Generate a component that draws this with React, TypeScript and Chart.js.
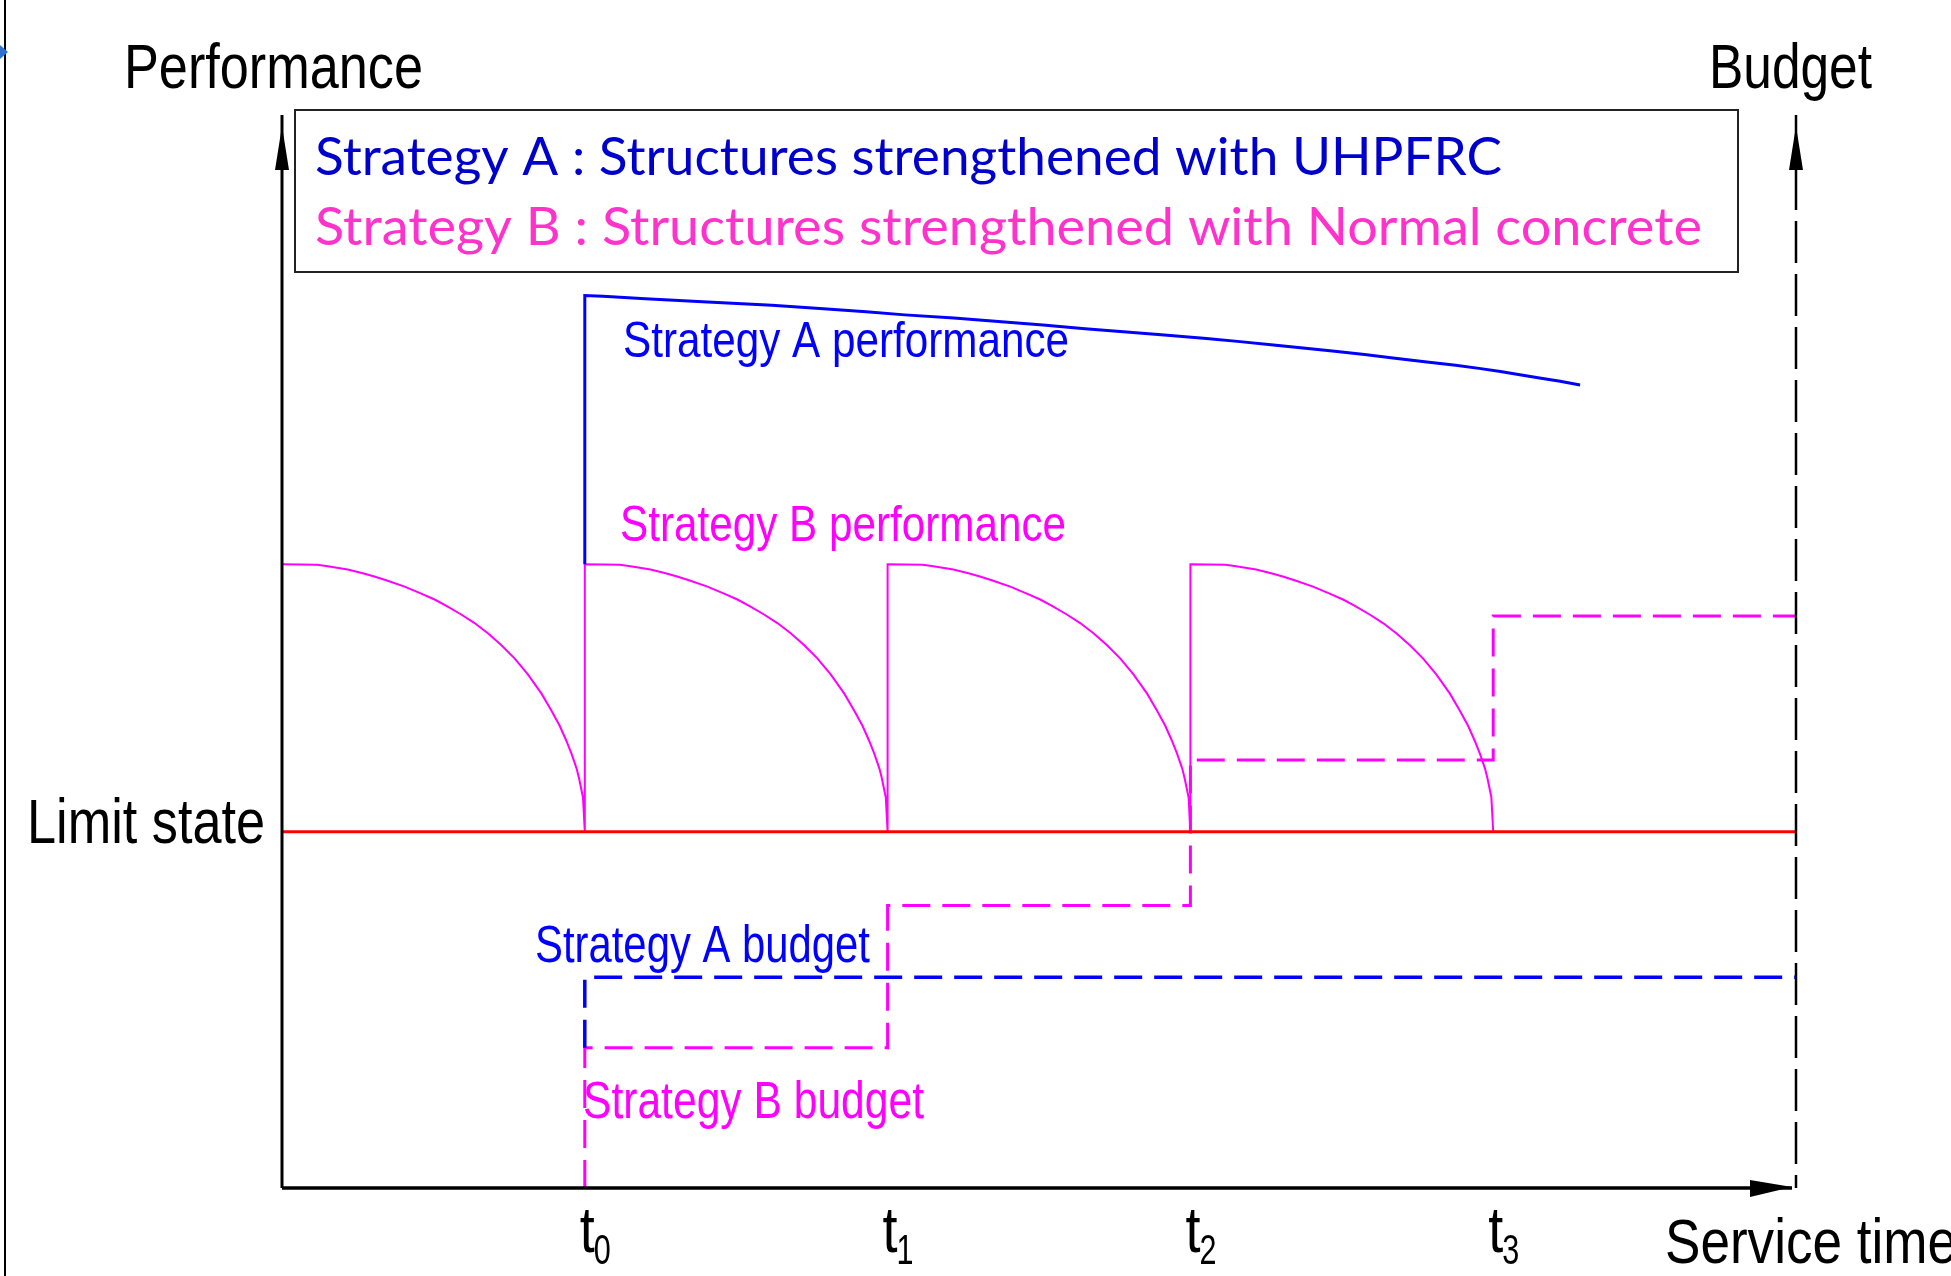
import { useEffect, useRef } from "react";
import { Chart, registerables } from "chart.js";

Chart.register(...registerables);

// ---------- data (x: service time in units where t0 = 1, y: performance / budget level) ----------
const timeTicks = [1, 2, 3, 4];
const tickSubscripts = ["0", "1", "2", "3"];

const limitState: [number, number][] = [
  [0, 33.3],
  [5, 33.3],
];

const stratAPerf: [number, number][] = [
  [1.0, 58.3], [1.0, 83.4], [1.06, 83.35], [1.2, 83.1], [1.405, 82.8], [1.618, 82.5], [1.8, 82.15],
  [1.929, 81.9], [2.057, 81.6], [2.219, 81.3], [2.376, 80.95], [2.513, 80.65], [2.652, 80.3],
  [2.789, 80.0], [2.924, 79.7], [3.053, 79.4], [3.164, 79.1], [3.266, 78.8], [3.372, 78.5],
  [3.477, 78.2], [3.575, 77.9], [3.676, 77.55], [3.781, 77.2], [3.876, 76.9], [3.953, 76.6],
  [4.024, 76.3], [4.088, 76.0], [4.153, 75.7], [4.221, 75.4], [4.287, 75.05],
];

const stratBPerf: [number, number][] = [
  [0.0, 58.3], [0.116, 58.25], [0.151, 58.1], [0.217, 57.8], [0.267, 57.45], [0.305, 57.15], [0.344, 56.8],
  [0.405, 56.2], [0.46, 55.55], [0.504, 55.0], [0.543, 54.4], [0.592, 53.6], [0.636, 52.8], [0.68, 51.85],
  [0.724, 50.75], [0.768, 49.5], [0.812, 48.0], [0.857, 46.2], [0.89, 44.6], [0.917, 43.2], [0.939, 41.8],
  [0.956, 40.6], [0.973, 39.2], [0.981, 38.3], [0.994, 36.5], [1.0, 33.3],
  [1.0, 58.3], [1.116, 58.25], [1.151, 58.1], [1.217, 57.8], [1.267, 57.45], [1.305, 57.15], [1.344, 56.8],
  [1.405, 56.2], [1.46, 55.55], [1.504, 55.0], [1.543, 54.4], [1.592, 53.6], [1.636, 52.8], [1.68, 51.85],
  [1.724, 50.75], [1.768, 49.5], [1.812, 48.0], [1.857, 46.2], [1.89, 44.6], [1.917, 43.2], [1.939, 41.8],
  [1.956, 40.6], [1.973, 39.2], [1.981, 38.3], [1.994, 36.5], [2.0, 33.3],
  [2.0, 58.3], [2.116, 58.25], [2.151, 58.1], [2.217, 57.8], [2.267, 57.45], [2.305, 57.15], [2.344, 56.8],
  [2.405, 56.2], [2.46, 55.55], [2.504, 55.0], [2.543, 54.4], [2.592, 53.6], [2.636, 52.8], [2.68, 51.85],
  [2.724, 50.75], [2.768, 49.5], [2.812, 48.0], [2.857, 46.2], [2.89, 44.6], [2.917, 43.2], [2.939, 41.8],
  [2.956, 40.6], [2.973, 39.2], [2.981, 38.3], [2.994, 36.5], [3.0, 33.3],
  [3.0, 58.3], [3.116, 58.25], [3.151, 58.1], [3.217, 57.8], [3.267, 57.45], [3.305, 57.15], [3.344, 56.8],
  [3.405, 56.2], [3.46, 55.55], [3.504, 55.0], [3.543, 54.4], [3.592, 53.6], [3.636, 52.8], [3.68, 51.85],
  [3.724, 50.75], [3.768, 49.5], [3.812, 48.0], [3.857, 46.2], [3.89, 44.6], [3.917, 43.2], [3.939, 41.8],
  [3.956, 40.6], [3.973, 39.2], [3.981, 38.3], [3.994, 36.5], [4.0, 33.3],
];

const stratABudget: [number, number][] = [
  [1, 13.1],
  [1, 19.7],
  [5, 19.7],
];

const stratBBudget: [number, number][] = [
  [1, 0], [1, 13.1], [2, 13.1], [2, 26.4], [3, 26.4], [3, 40.0], [4, 40.0], [4, 53.45], [5, 53.45],
];

const legendLines = [
  "Strategy A : Structures strengthened with UHPFRC",
  "Strategy B : Structures strengthened with Normal concrete",
];
const axisTitles = { performance: "Performance", budget: "Budget", time: "Service time", limit: "Limit state" };
const seriesLabels = {
  aPerf: "Strategy A performance",
  bPerf: "Strategy B performance",
  aBudget: "Strategy A budget",
  bBudget: "Strategy B budget",
};

// ---------- helpers ----------
const toXY = (arr: [number, number][]) => arr.map(([x, y]) => ({ x, y }));

const ARIAL = '"Liberation Sans", Arial, sans-serif';
const CAL = 'Lato, "Open Sans", sans-serif';

function drawFit(
  ctx: CanvasRenderingContext2D,
  text: string,
  x: number,
  baseline: number,
  size: number,
  family: string,
  color: string,
  width: number
) {
  ctx.save();
  ctx.font = `${size}px ${family}`;
  const w = ctx.measureText(text).width || 1;
  ctx.translate(x, baseline);
  ctx.scale(width / w, 1);
  ctx.fillStyle = color;
  ctx.textAlign = "left";
  ctx.textBaseline = "alphabetic";
  ctx.fillText(text, 0, 0);
  ctx.restore();
}

function arrowUp(ctx: CanvasRenderingContext2D, x: number, tip: number, base: number, hw: number) {
  ctx.beginPath();
  ctx.moveTo(x, tip);
  ctx.lineTo(x + hw, base);
  ctx.lineTo(x - hw, base);
  ctx.closePath();
  ctx.fill();
}

const decor = {
  id: "decor",
  afterDatasetsDraw(chart: any) {
    const { ctx, chartArea: a, scales } = chart;
    const xs = scales.x;
    ctx.save();

    // page frame line on the left + small marker
    ctx.fillStyle = "#000";
    ctx.fillRect(4, 0, 2, chart.height);
    ctx.fillStyle = "#2f6fd0";
    ctx.beginPath();
    ctx.moveTo(0, 45);
    ctx.lineTo(8, 52);
    ctx.lineTo(0, 59);
    ctx.closePath();
    ctx.fill();

    // left (performance) axis
    ctx.strokeStyle = "#000";
    ctx.fillStyle = "#000";
    ctx.lineWidth = 3;
    ctx.beginPath();
    ctx.moveTo(a.left, a.bottom);
    ctx.lineTo(a.left, a.top - 3);
    ctx.stroke();
    arrowUp(ctx, a.left, a.top + 8, a.top + 52, 7);

    // bottom (time) axis
    ctx.lineWidth = 3.5;
    ctx.beginPath();
    ctx.moveTo(a.left, a.bottom);
    ctx.lineTo(a.right - 4, a.bottom);
    ctx.stroke();
    ctx.beginPath();
    ctx.moveTo(a.right - 4, a.bottom - 1);
    ctx.lineTo(a.right - 46, a.bottom - 8);
    ctx.lineTo(a.right - 46, a.bottom + 9);
    ctx.closePath();
    ctx.fill();

    // right (budget) dashed axis
    ctx.lineWidth = 2.5;
    ctx.setLineDash([42, 11]);
    ctx.beginPath();
    ctx.moveTo(a.right, a.top - 3);
    ctx.lineTo(a.right, a.bottom);
    ctx.stroke();
    ctx.setLineDash([]);
    arrowUp(ctx, a.right, a.top + 8, a.top + 52, 7);

    // axis titles
    drawFit(ctx, axisTitles.performance, 124, 88, 63, ARIAL, "#000", 299);
    drawFit(ctx, axisTitles.budget, 1709, 88, 63, ARIAL, "#000", 163);
    drawFit(ctx, axisTitles.limit, 27, 843, 63, ARIAL, "#000", 238);
    drawFit(ctx, axisTitles.time, 1665, 1263, 63, ARIAL, "#000", 292);

    // time ticks t0..t3
    timeTicks.forEach((t, i) => {
      const px = xs.getPixelForValue(t);
      drawFit(ctx, "t", px - 5, 1252, 64, ARIAL, "#000", 15);
      drawFit(ctx, tickSubscripts[i], px + 9, 1264, 43, ARIAL, "#000", 17);
    });

    // series labels
    drawFit(ctx, seriesLabels.aPerf, 623, 357, 50, ARIAL, "#0000ff", 446);
    drawFit(ctx, seriesLabels.bPerf, 620, 541, 50, ARIAL, "#ff00ff", 446);
    drawFit(ctx, seriesLabels.aBudget, 535, 962, 51, ARIAL, "#0000ff", 335);
    drawFit(ctx, seriesLabels.bBudget, 583, 1118, 51, ARIAL, "#ff00ff", 341);

    // legend box
    ctx.fillStyle = "#fff";
    ctx.fillRect(295, 110, 1443, 162);
    ctx.strokeStyle = "#222";
    ctx.lineWidth = 2;
    ctx.strokeRect(295, 110, 1443, 162);
    drawFit(ctx, legendLines[0], 315, 175, 53, CAL, "#0000cc", 1187);
    drawFit(ctx, legendLines[1], 315, 245, 53, CAL, "#ff33cc", 1387);

    ctx.restore();
  },
};

export default function App() {
  const ref = useRef<HTMLCanvasElement>(null);

  useEffect(() => {
    document.body.style.margin = "0";
    document.body.style.overflow = "hidden";
    const canvas = ref.current!;
    const line = (data: [number, number][], color: string, width: number, dash: number[] = []) => ({
      data: toXY(data),
      showLine: true,
      borderColor: color,
      backgroundColor: color,
      borderWidth: width,
      borderDash: dash,
      pointRadius: 0,
      pointHoverRadius: 0,
      tension: 0,
      fill: false,
      borderCapStyle: "butt" as const,
      borderJoinStyle: "miter" as const,
    });

    const chart = new Chart(canvas, {
      type: "scatter",
      data: {
        datasets: [
          { label: axisTitles.limit, ...line(limitState, "#ff0000", 3) },
          { label: seriesLabels.aPerf, ...line(stratAPerf, "#0000ff", 3) },
          { label: seriesLabels.bPerf, ...line(stratBPerf, "#ff00ff", 2) },
          { label: seriesLabels.aBudget, ...line(stratABudget, "#0000ff", 3.5, [28, 12]) },
          { label: seriesLabels.bBudget, ...line(stratBBudget, "#ff00ff", 3, [28, 12]) },
        ],
      },
      options: {
        responsive: false,
        maintainAspectRatio: false,
        animation: false,
        devicePixelRatio: 1,
        layout: { padding: { left: 282, right: 155, top: 118, bottom: 88 } },
        scales: {
          x: { type: "linear", min: 0, max: 5, display: false },
          y: { type: "linear", min: 0, max: 100, display: false },
        },
        plugins: {
          legend: { display: false },
          tooltip: { enabled: false },
          title: { display: false },
        },
        events: [],
      },
      plugins: [decor],
    });
    return () => chart.destroy();
  }, []);

  return (
    <canvas
      ref={ref}
      width={1951}
      height={1276}
      style={{ display: "block", width: 1951, height: 1276 }}
    />
  );
}
